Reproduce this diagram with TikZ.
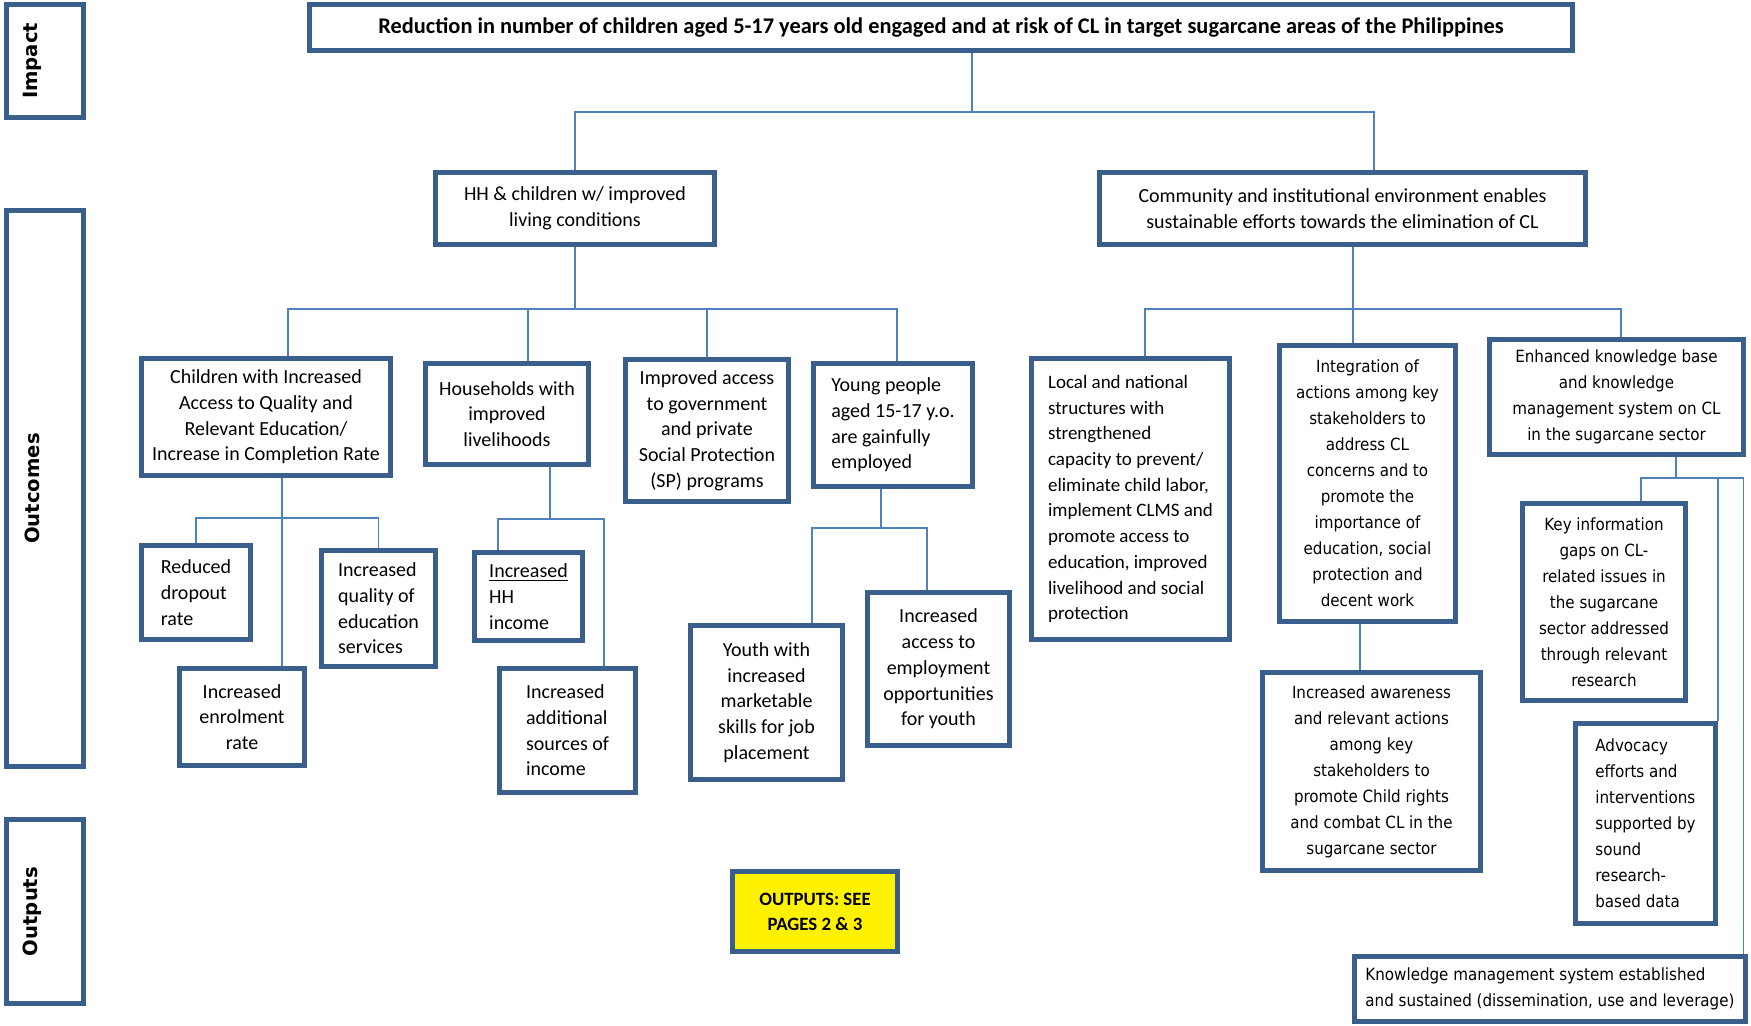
\documentclass[tikz,border=0pt]{standalone}
\usepackage{fontspec}
\usepackage{xcolor}
\usepackage{tikz}
\setmainfont{Carlito}
\newfontfamily\widefont{DejaVu Sans Condensed}
\newfontfamily\sidefont{DejaVu Sans}

\definecolor{boxblue}{HTML}{3A5F8C}
\definecolor{linkblue}{HTML}{4F81BD}

\begin{document}
\begin{tikzpicture}[x=0.5pt, y=-0.5pt,
    outbox/.style={draw=boxblue, line width=2.5pt, fill=white, inner sep=2pt, align=center, font=\fontsize{10pt}{12.85pt}\selectfont},
    leftbox/.style={outbox, align=left},
    widebox/.style={outbox, font=\widefont\fontsize{8.4pt}{13pt}\selectfont},
    sidebox/.style={draw=boxblue, line width=2.5pt, minimum width=38.5pt},
    sidelabel/.style={rotate=90, font=\sidefont\bfseries\fontsize{9.8pt}{11pt}\selectfont},
    link/.style={draw=linkblue, line width=0.75pt}
]
\useasboundingbox (0,0) rectangle (1751,1026);

% side labels
\node[sidebox, minimum height=56.5pt] (impact) at (45,61) {};
\node[sidelabel] (impacttxt) at ([xshift=-6.5pt]impact.center) {Impact};
\node[sidebox, minimum height=278pt] (outcomes) at (45,488.5) {};
\node[sidelabel] (outcomestxt) at ([xshift=-6.5pt]outcomes.center) {Outcomes};
\node[sidebox, minimum height=92pt] (outputs) at (45,911.5) {};
\node[sidelabel] (outputstxt) at ([xshift=-6.5pt]outputs.center) {Outputs};

% impact and first level
\node[outbox, minimum width=631.5pt, minimum height=23pt, font=\bfseries\fontsize{11.2pt}{13pt}\selectfont] (title) at (941,27.5) {Reduction in number of children aged 5-17 years old engaged and at risk of CL in target sugarcane areas of the Philippines};
\node[outbox, minimum width=139.5pt, minimum height=36pt] (hh) at (575,208.5) {HH \& children w/ improved\\living conditions};
\node[outbox, minimum width=243pt, minimum height=36pt] (comm) at (1342.5,208.5) {Community and institutional environment enables\\sustainable efforts towards the elimination of CL};

% household branch
\node[outbox, minimum width=124.5pt, minimum height=58.5pt] (children) at (266,417) {Children with Increased\\Access to Quality and\\Relevant Education/\\Increase in Completion Rate};
\node[outbox, minimum width=81.5pt, minimum height=50.5pt] (households) at (507,414) {Households with\\improved\\livelihoods};
\node[outbox, minimum width=81.5pt, minimum height=71pt] (access) at (707,430.5) {Improved access\\to government\\and private\\Social Protection\\(SP) programs};
\node[leftbox, minimum width=79.5pt, minimum height=61.5pt] (young) at (893,425) {Young people\\aged 15-17 y.o.\\are gainfully\\employed};

\node[leftbox, minimum width=54.5pt, minimum height=47pt] (reduced) at (196,592.5) {Reduced\\dropout\\rate};
\node[leftbox, minimum width=57pt, minimum height=58pt] (quality) at (378.5,608.5) {Increased\\quality of\\education\\services};
\node[outbox, minimum width=62.5pt, minimum height=48.5pt] (enrol) at (242,717) {Increased\\enrolment\\rate};
\node[leftbox, minimum width=54pt, minimum height=44pt] (hhincome) at (528.5,596.5) {\underline{Increased}\\HH\\income};
\node[leftbox, minimum width=68pt, minimum height=62pt] (addsrc) at (567.5,730.5) {Increased\\additional\\sources of\\income};
\node[outbox, minimum width=76pt, minimum height=77pt] (youth) at (766.5,702.5) {Youth with\\increased\\marketable\\skills for job\\placement};
\node[outbox, minimum width=71pt, minimum height=76.5pt] (empl) at (938.5,669) {Increased\\access to\\employment\\opportunities\\for youth};

% community branch
\node[leftbox, minimum width=99pt, minimum height=140.5pt, font=\fontsize{9.5pt}{12.85pt}\selectfont] (local) at (1130.5,499) {Local and national\\structures with\\strengthened\\capacity to prevent/\\eliminate child labor,\\implement CLMS and\\promote access to\\education, improved\\livelihood and social\\protection};
\node[widebox, minimum width=88pt, minimum height=138pt] (integ) at (1367.5,483.5) {Integration of\\actions among key\\stakeholders to\\address CL\\concerns and to\\promote the\\importance of\\education, social\\protection and\\decent work};
\node[widebox, minimum width=127pt, minimum height=57.5pt] (enhanced) at (1616.5,397) {Enhanced knowledge base\\and knowledge\\management system on CL\\in the sugarcane sector};
\node[widebox, minimum width=109pt, minimum height=99pt] (aware) at (1371.5,771.5) {Increased awareness\\and relevant actions\\among key\\stakeholders to\\promote Child rights\\and combat CL in the\\sugarcane sector};
\node[widebox, minimum width=81.5pt, minimum height=98.5pt] (keyinfo) at (1604,602) {Key information\\gaps on CL-\\related issues in\\the sugarcane\\sector addressed\\through relevant\\research};
\node[widebox, align=left, minimum width=70pt, minimum height=100pt] (advocacy) at (1645.5,823.5) {Advocacy\\efforts and\\interventions\\supported by\\sound\\research-\\based data};
\node[widebox, align=left, minimum width=195.5pt, minimum height=32.5pt] (kms) at (1550,989) {Knowledge management system established\\and sustained (dissemination, use and leverage)};

% outputs note
\node[outbox, fill=yellow, minimum width=82.5pt, minimum height=40pt, font=\bfseries\fontsize{9.4pt}{12.5pt}\selectfont] (note) at (815,911.5) {OUTPUTS: SEE\\PAGES 2 \& 3};

% connectors
\coordinate (impbus) at (972,112);
\coordinate (hhbus) at (580,309);
\coordinate (commbus) at (1353,309);
\coordinate (chbus) at (282,518);
\coordinate (hsbus) at (550,519);
\coordinate (ybus) at (881,528);
\coordinate (ebus) at (1676,478);

\draw[link] (title.south -| impbus) -- (impbus);
\draw[link] (hh.north) |- (impbus) -| ([xshift=15.75pt]comm.north);

\draw[link] (hh.south) -- (hh.south |- hhbus);
\draw[link] ([xshift=11pt]children.north) |- (hhbus) -| ([xshift=2pt]young.north);
\draw[link] ([xshift=10.5pt]households.north) -- ([xshift=10.5pt]households.north |- hhbus);
\draw[link] (access.north) -- (access.north |- hhbus);

\draw[link] ([xshift=-7.25pt]integ.north) -- ([xshift=-7.25pt]integ.north |- comm.south);
\draw[link] ([xshift=7.25pt]local.north) |- (commbus) -| ([xshift=2.25pt]enhanced.north);

\draw[link] ([xshift=8pt]children.south) -- ([xshift=8pt]children.south |- enrol.north);
\draw[link] (reduced.north) |- (chbus) -| (quality.north);

\draw[link] ([xshift=21.5pt]households.south) -- (hsbus);
\draw[link] ([xshift=-15.25pt]hhincome.north) |- (hsbus) -| ([xshift=18.25pt]addsrc.north);

\draw[link] ([xshift=-6pt]young.south) -- (ybus);
\draw[link] ([xshift=22.75pt]youth.north) |- (ybus) -| ([xshift=-5.75pt]empl.north);

\draw[link] ([xshift=-3.75pt]integ.south) -- ([xshift=-3.75pt]integ.south |- aware.north);

\draw[link] ([xshift=29.75pt]enhanced.south) -- (ebus);
\draw[link] ([xshift=18.5pt]keyinfo.north) |- (ebus) -| ([xshift=96.75pt]kms.north);
\draw[link] (advocacy.north east) -- (advocacy.north east |- ebus);
\end{tikzpicture}
\end{document}
